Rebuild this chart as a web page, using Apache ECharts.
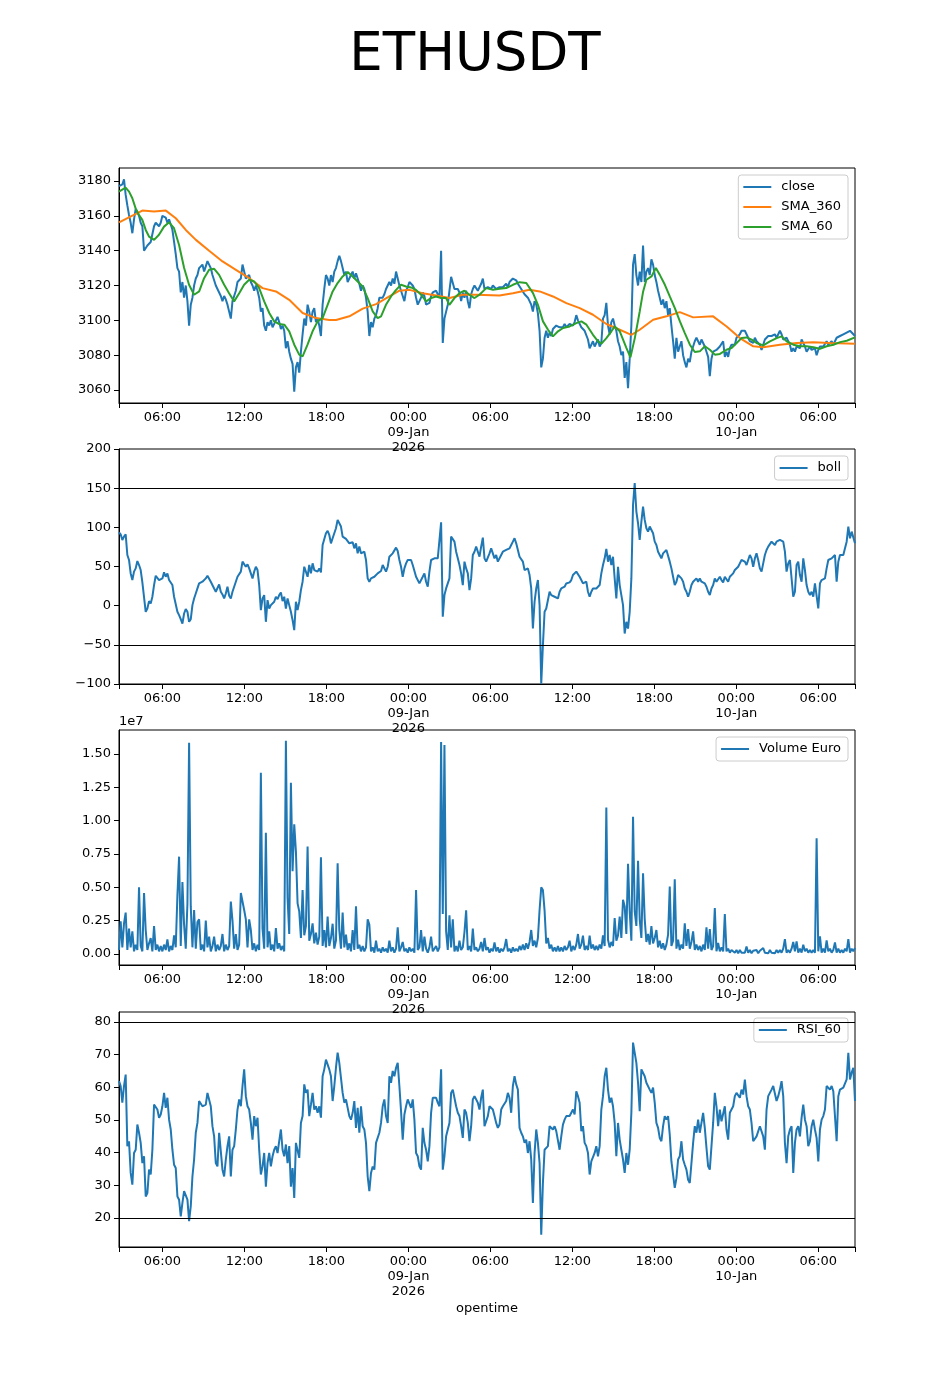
<!DOCTYPE html>
<html><head><meta charset="utf-8">
<script src="https://cdn.jsdelivr.net/npm/echarts/dist/echarts.min.js"></script>
<style>html,body{margin:0;padding:0;background:#fff}#c{width:950px;height:1400px}</style>
</head><body><div id="c"></div>
<script>
// time in hours after 2026-01-08 00:00; samples on a regular grid
const START_H = 2.824;
const STEP_H = 0.12213;

const close = [
3177,3178,3178,3181,3172,3166,3160.5,3156,3150,3158,
3164,3163,3160,3156,3154,3140,3139,3143,3142,3145,
3146,3154,3156,3155,3154,3156,3160,3160,3159,3156,
3158,3155,3152,3145,3138,3130,3128,3116,3122,3113,
3120,3111,3097,3109,3113,3120,3124,3126,3130,3131,
3132,3128,3131,3134,3135,3130,3126,3123,3120,3118,
3116,3114,3111,3114,3112,3109,3105,3101,3111,3114,
3117,3122,3121,3124,3132,3128,3124,3124,3126,3122,
3120,3117,3120,3117,3113,3105,3107,3097,3094,3099,
3097,3100,3096,3098,3099,3102,3099,3095,3097,3094,
3084,3088,3082,3078,3075,3059,3073,3076,3070,3082,
3092,3101,3097,3109,3105,3099,3105,3107,3099,3101,
3097,3091,3109,3118,3126,3124,3120,3126,3122,3128,
3130,3134,3137,3134,3130,3126,3128,3122,3124,3126,
3128,3124,3127,3124,3121,3117,3120,3118,3113,3105,
3091,3099,3096,3101,3103,3107,3113,3114,3113,3115,
3118,3120,3122,3120,3124,3121,3128,3124,3120,3117,
3114,3111,3117,3119,3122,3121,3120,3118,3113,3109,
3108,3113,3116,3114,3109,3108,3110,3114,3116,3115,
3117,3115,3113,3140,3087,3101,3105,3109,3117,3125,
3126,3118,3117,3118,3116,3111,3116,3113,3117,3111,
3107,3115,3118,3120,3121,3117,
3117,3121,3124,3118,3118,3119,3120,3118,3120,3119,
3118,3118,3119,3118,3119,3120,3121,3119,3122,3123,
3124,3125,3123,3121,3120,3118,3118,3115,3116,3113,
3114,3109,3105,3111,3109,3104,3094,3073,3078,3090,
3094,3090,3093,3091,3095,3096,3097,3096,3096,3097,
3096,3098,3096,3097,3098,3099,3097,3099,3103,3100,
3099,3096,3097,3094,3093,3089,3084,3086,3088,3085,
3086,3089,3085,3087,3101,3103,3110,3097,3092,3099,
3101,3097,3094,3088,3085,3080,3082,3067,3076,3061,
3078,3097,3132,3138,3126,3120,3128,3122,3143,3122,
3128,3130,3126,3135,3132,3126,3122,3117,3113,3109,
3112,3107,3111,3103,3107,3097,3088,3078,3090,3082,
3085,3088,3080,3076,3073,3078,3076,3082,3085,3088,
3090,3088,3086,3089,3087,3085,3082,3079,3068,3078,
3082,3081,3083,3082,3085,3086,3088,3079,3082,3079,
3084,3086,3085,3086,3090,3091,3092,3094,3093,3094,
3093,3090,3088,3089,3087,3090,3088,3087,3086,3083,
3086,3089,3090,3091,3090,3091,3091,3092,3090,3092,
3094,3092,3089,3088,3090,3088,3086,3082,3084,3082,
3085,3086,3084,3089,3087,3085,3082,3083,3085,3083,
3082,3084,3080,3083,3085,3084,3085,3086,3088,3086,
3087,3088,3086,3088,3090,3089,3091,3090,3092,3091,
3093,3092,3094,3093,3092,3091
];

const sma360 = [
[2.83,3156.3],[4.53,3163.0],[5.39,3162.5],[6.25,3163.0],[6.98,3158.6],[7.71,3151.9],[8.45,3146.2],
[9.42,3139.9],[10.40,3133.8],[11.38,3129.0],[12.35,3124.2],[13.33,3118.5],[14.31,3116.6],[15.28,3111.8],
[16.26,3104.2],[17.24,3101.3],[18.22,3100.2],[18.71,3100.2],[19.68,3102.3],[20.66,3106.7],[21.64,3109.3],
[22.61,3113.7],[23.35,3117.0],[24.08,3117.5],[25.05,3115.6],[26.04,3114.3],[27.01,3112.8],[27.98,3114.7],
[28.97,3114.7],[30.67,3114.3],[31.65,3115.6],[32.87,3117.5],[33.61,3116.6],[34.58,3113.7],[35.56,3109.9],
[36.54,3107.0],[37.51,3103.2],[38.49,3097.9],[39.47,3094.6],[40.32,3091.7],[40.93,3094.6],[41.91,3100.3],
[42.89,3102.3],[43.86,3104.7],[44.84,3101.7],[46.30,3102.3],[47.29,3096.5],[48.26,3089.8],[49.24,3085.1],
[49.97,3084.5],[51.19,3086.0],[52.42,3087.0],[53.63,3087.4],[54.86,3087.0],[56.68,3086.6]
];

const sma60 = [
[2.82,3173.9],[3.31,3176.2],[3.56,3173.9],[3.80,3170.1],[4.04,3164.3],[4.29,3160.5],[4.53,3157.7],
[4.78,3151.9],[5.02,3148.1],[5.39,3146.2],[5.75,3149.1],[6.12,3153.8],[6.49,3156.3],[6.85,3152.9],
[7.22,3143.3],[7.59,3130.0],[7.95,3120.4],[8.32,3114.7],[8.69,3116.6],[9.05,3124.2],[9.42,3129.0],
[9.79,3129.6],[10.15,3126.1],[10.52,3120.4],[10.88,3115.6],[11.25,3110.9],[11.62,3115.6],[11.98,3120.4],
[12.35,3123.3],[12.72,3122.3],[13.08,3118.5],[13.45,3110.9],[13.82,3104.2],[14.18,3099.4],[14.55,3097.9],
[14.92,3097.5],[15.28,3093.7],[15.65,3086.0],[16.01,3080.3],[16.26,3079.3],[16.62,3086.0],[16.99,3093.7],
[17.36,3099.4],[17.72,3101.3],[18.09,3108.9],[18.46,3116.6],[18.82,3121.4],[19.19,3125.2],[19.56,3127.7],
[19.92,3125.2],[20.29,3122.3],[20.65,3119.4],[21.02,3112.8],[21.39,3105.1],[21.75,3101.3],[22.00,3102.3],
[22.36,3108.9],[22.73,3113.7],[23.10,3117.5],[23.46,3120.4],[23.83,3119.4],[24.20,3118.9],[24.56,3117.5],
[24.93,3114.7],[25.30,3110.9],[25.66,3112.8],[26.03,3113.7],[26.39,3112.8],[26.76,3112.8],[27.00,3108.9],
[27.37,3112.8],[27.74,3115.6],[28.10,3117.0],[28.47,3114.7],[28.84,3112.8],[29.20,3114.7],[29.70,3118.5],
[30.19,3117.5],[30.68,3118.1],[31.16,3118.5],[31.65,3120.4],[32.14,3121.9],[32.63,3121.4],[33.12,3115.6],
[33.48,3108.9],[33.85,3099.4],[34.22,3094.6],[34.58,3090.8],[34.95,3093.7],[35.32,3095.6],[35.80,3096.5],
[36.29,3098.4],[36.66,3099.4],[37.03,3097.5],[37.51,3091.7],[37.88,3087.9],[38.13,3086.6],[38.49,3089.8],
[38.86,3093.7],[39.10,3096.5],[39.47,3093.7],[39.96,3084.1],[40.25,3078.8],[40.57,3089.8],[40.93,3105.1],
[41.18,3116.6],[41.42,3123.3],[41.79,3125.2],[42.11,3130.0],[42.40,3126.1],[42.77,3120.4],[43.13,3113.7],
[43.50,3107.0],[43.87,3099.4],[44.23,3092.7],[44.60,3086.0],[44.96,3081.8],[45.33,3082.2],[45.70,3085.1],
[46.06,3083.1],[46.43,3080.3],[46.80,3080.7],[47.28,3083.1],[47.65,3084.1],[48.02,3087.0],[48.38,3089.8],
[48.75,3090.2],[49.12,3088.9],[49.48,3087.0],[49.97,3085.6],[50.46,3087.9],[50.95,3089.8],[51.32,3090.8],
[51.68,3087.9],[52.17,3086.0],[52.66,3085.1],[53.15,3085.1],[53.64,3084.5],[54.12,3083.7],[54.61,3085.1],
[55.10,3086.0],[55.59,3087.5],[56.08,3088.3],[56.68,3090.2]
];

const boll = [
93.7,91.1,83.9,88.1,91.1,64.7,58.3,41.2,32.7,43.4,
47.6,57.0,51.9,45.5,29.7,28.4,-7.8,-3.6,5.8,2.8,
11.4,26.3,38.2,36.9,32.7,31.4,34.8,42.5,36.9,41.2,
32.7,34.8,26.3,11.4,9.2,-7.8,-12.1,-17.2,-22.8,-10.0,
-4.4,-7.8,-20.6,-17.2,0.7,9.2,15.6,22.0,28.4,29.7,
30.6,32.7,34.8,38.2,39.1,30.6,32.7,22.0,17.8,19.9,
27.1,17.8,14.3,9.2,15.6,24.2,12.6,9.2,17.8,19.9,
30.6,36.9,39.1,43.4,56.2,58.3,49.7,52.7,47.6,49.7,
34.8,43.4,49.7,45.5,26.3,-5.7,9.2,13.5,-20.6,7.1,
-3.6,0.7,2.8,5.0,11.4,8.4,13.5,16.9,5.8,11.4,
-3.6,9.2,0.7,-7.8,-18.5,-31.3,5.0,-5.7,5.0,19.9,
30.6,49.7,47.6,36.9,51.9,41.2,54.0,45.5,47.6,43.4,
47.6,42.5,77.5,79.6,92.4,95.4,90.3,79.6,86.0,92.4,
98.8,109.5,111.6,101.0,88.1,90.3,85.2,86.0,79.6,77.5,
80.9,73.2,79.6,66.8,75.4,66.8,64.7,68.9,58.3,34.8,
30.6,34.8,32.7,36.9,35.7,41.2,41.2,44.2,51.9,54.0,
43.4,49.7,62.5,60.4,66.8,64.7,74.1,69.8,58.3,49.7,
36.9,47.6,54.0,58.3,60.4,58.3,51.9,49.7,36.9,35.7,
28.4,26.3,36.9,41.2,30.6,24.2,43.4,58.3,60.4,60.4,
61.3,60.4,58.3,106.5,-14.2,13.5,22.0,24.2,34.8,88.1,
89.4,81.7,68.9,60.4,51.9,41.2,26.3,56.2,47.6,41.2,
19.9,34.8,64.7,68.9,75.4,77.5,
62.5,75.4,86.9,60.4,56.2,58.3,66.8,73.2,66.8,60.4,
64.7,56.2,58.3,64.7,68.9,66.8,71.1,68.9,73.2,77.5,
81.7,86.0,79.6,77.5,62.5,60.4,56.2,45.5,43.4,47.6,
39.1,22.0,-29.2,5.0,22.0,32.7,0.7,-99.6,-50.5,-7.8,
-3.6,-1.4,17.8,13.5,15.6,11.4,13.5,9.2,17.8,22.0,
22.9,24.2,28.4,30.6,29.7,32.7,39.1,36.9,43.4,41.2,
36.9,32.7,28.4,26.3,30.6,17.8,11.4,17.8,22.0,19.9,
22.0,22.9,26.3,41.2,51.9,60.4,72.4,56.2,64.7,51.9,
62.5,34.8,9.2,49.7,26.3,13.5,0.7,-35.6,-20.6,-29.2,
-7.8,34.8,128.7,156.4,120.1,105.2,83.9,107.3,126.5,109.5,
98.8,94.5,101.0,98.8,92.4,81.7,77.5,68.9,64.7,60.4,
66.8,68.9,71.1,68.9,56.2,47.6,36.9,26.3,30.6,39.1,
41.2,34.8,30.6,22.0,17.8,11.4,17.8,26.3,30.6,28.4,
34.8,30.6,34.8,30.6,32.7,28.4,24.2,17.8,13.5,22.0,
26.3,34.8,30.6,30.6,36.9,32.7,29.7,36.9,34.8,30.6,
36.9,39.1,41.2,45.5,47.6,49.7,54.0,58.3,60.4,56.2,
51.9,58.3,64.7,60.4,49.7,60.4,66.8,58.3,47.6,43.4,
54.0,64.7,71.1,75.4,77.5,81.7,83.9,77.5,81.7,79.6,
83.9,86.0,81.7,68.9,43.4,54.0,58.3,56.2,11.4,17.8,
51.9,56.2,39.1,30.6,60.4,45.5,26.3,17.8,13.5,17.8,
11.4,28.4,26.3,-3.6,28.4,32.7,30.6,34.8,47.6,58.3,
60.4,60.4,62.5,64.7,30.6,56.2,64.7,66.8,64.7,73.2,
81.7,101.0,86.0,94.5,96.7,79.6
];

// Volume Euro, in units of 1e7
const volumeEuro1e7 = [
0.03,0.245,0.05,0.23,0.31,0.03,0.19,0.05,0.17,0.02,
0.07,0.03,0.50,0.06,0.02,0.457,0.18,0.03,0.08,0.12,
0.02,0.21,0.03,0.07,0.02,0.06,0.02,0.07,0.03,0.11,
0.02,0.06,0.03,0.14,0.05,0.44,0.73,0.06,0.54,0.22,
0.04,0.377,1.584,0.357,0.05,0.33,0.04,0.24,0.26,0.03,
0.07,0.02,0.25,0.05,0.13,0.02,0.06,0.13,0.02,0.07,
0.03,0.06,0.15,0.02,0.07,0.03,0.06,0.394,0.25,0.04,
0.15,0.03,0.07,0.457,0.45,0.33,0.26,0.05,0.26,0.18,
0.03,0.08,0.02,0.07,0.03,1.36,0.19,0.04,0.91,0.05,
0.17,0.03,0.07,0.02,0.195,0.04,0.08,0.03,0.06,0.02,
1.60,0.42,0.15,1.285,0.62,0.973,0.77,0.38,0.32,0.12,
0.48,0.14,0.21,0.806,0.10,0.15,0.23,0.08,0.16,0.07,
0.13,0.726,0.06,0.18,0.05,0.28,0.06,0.12,0.227,0.04,
0.10,0.68,0.18,0.04,0.31,0.05,0.145,0.03,0.08,0.02,
0.18,0.03,0.357,0.04,0.07,0.02,0.06,0.02,0.05,0.26,
0.22,0.02,0.05,0.01,0.10,0.02,0.04,0.01,0.05,0.02,
0.04,0.01,0.10,0.02,0.05,0.01,0.04,0.20,0.02,0.05,
0.09,0.02,0.04,0.01,0.05,0.02,0.04,0.01,0.48,0.03,
0.05,0.18,0.02,0.13,0.04,0.01,0.05,0.13,0.02,0.04,
0.06,0.02,0.05,1.59,0.30,1.567,0.17,0.03,0.29,0.05,
0.26,0.02,0.06,0.02,0.10,0.03,0.05,0.165,0.327,0.03,
0.06,0.02,0.19,0.03,0.05,0.02,
0.04,0.09,0.02,0.12,0.03,0.05,0.01,0.04,0.02,0.087,
0.02,0.05,0.01,0.04,0.02,0.05,0.112,0.02,0.04,0.01,
0.05,0.02,0.04,0.02,0.06,0.03,0.07,0.03,0.08,0.04,
0.09,0.18,0.06,0.10,0.05,0.12,0.33,0.50,0.48,0.325,
0.08,0.12,0.04,0.07,0.02,0.05,0.02,0.06,0.02,0.05,
0.02,0.06,0.03,0.05,0.10,0.02,0.06,0.03,0.07,0.15,
0.04,0.07,0.137,0.03,0.06,0.03,0.137,0.04,0.07,0.03,
0.06,0.03,0.07,0.04,0.14,0.06,1.098,0.107,0.05,0.09,
0.06,0.27,0.10,0.14,0.28,0.12,0.407,0.357,0.15,0.676,
0.32,0.10,1.03,0.32,0.21,0.70,0.257,0.12,0.606,0.262,
0.09,0.15,0.07,0.21,0.08,0.12,0.18,0.05,0.10,0.04,
0.08,0.03,0.07,0.145,0.506,0.06,0.10,0.56,0.04,0.107,
0.03,0.07,0.04,0.23,0.06,0.187,0.04,0.09,0.17,0.03,
0.07,0.03,0.06,0.02,0.07,0.03,0.20,0.04,0.187,0.03,
0.06,0.344,0.02,0.082,0.02,0.05,0.02,0.30,0.02,0.04,
0.01,0.03,0.045,0.01,0.03,0.005,0.03,0.01,0.025,0.01,
0.057,0.01,0.03,0.005,0.025,0.01,0.03,0.005,0.025,0.01,
0.045,0.01,0.025,0.005,0.03,0.01,0.025,0.005,0.03,0.01,
0.03,0.01,0.04,0.112,0.01,0.03,0.01,0.04,0.09,0.02,
0.095,0.01,0.04,0.01,0.07,0.02,0.04,0.01,0.03,0.01,
0.03,0.01,0.868,0.02,0.132,0.01,0.04,0.01,0.102,0.02,
0.04,0.01,0.03,0.087,0.01,0.04,0.01,0.03,0.01,0.04,
0.02,0.112,0.01,0.04,0.02,0.045
];

const rsi60 = [
61.9,60.4,55.3,60.4,63.9,42.0,43.5,33.8,30.2,39.9,
40.9,48.6,46.1,43.0,36.8,38.9,26.6,27.6,34.8,33.3,
40.9,54.7,55.3,53.2,50.7,51.7,54.2,58.3,53.7,56.8,
50.1,47.1,40.9,36.3,35.3,26.6,25.6,20.5,24.6,28.2,
28.7,25.6,19.0,23.6,32.7,37.9,46.1,49.1,55.8,55.3,
54.2,53.7,54.7,58.3,58.8,54.2,48.1,45.0,36.8,35.8,
46.1,40.4,34.8,32.7,37.9,42.0,45.0,32.7,40.9,42.0,
47.1,53.2,56.3,54.2,60.4,65.5,57.3,54.2,53.2,49.1,
44.0,51.2,48.1,50.7,40.9,33.3,35.8,39.9,29.6,36.8,
39.9,35.8,38.9,40.9,42.0,39.9,43.5,47.1,40.9,38.9,
42.5,36.8,42.0,29.6,35.3,26.1,43.0,43.5,38.4,49.1,
51.2,60.9,58.3,59.3,51.2,54.7,58.3,53.2,54.2,52.2,
54.2,50.7,63.4,65.5,68.5,68.0,65.5,63.4,55.8,60.4,
66.0,70.6,67.5,62.9,58.3,55.3,56.3,55.8,51.2,50.1,
52.2,55.8,47.6,53.7,46.1,54.2,48.1,47.1,43.0,32.7,
28.2,33.8,35.8,34.8,43.0,43.0,46.1,49.1,54.2,56.3,
51.2,49.1,63.4,61.4,65.0,63.4,66.0,67.5,60.4,52.7,
44.0,51.7,54.2,56.3,56.8,53.7,56.3,50.1,39.9,38.9,
35.8,34.8,47.6,43.0,40.9,37.3,42.0,52.2,56.8,56.3,
56.8,55.3,54.2,65.5,34.8,38.9,45.0,47.1,49.1,58.3,
59.3,58.8,54.2,52.2,51.2,48.1,44.5,53.2,52.2,49.1,
43.5,48.1,56.3,57.3,57.8,55.3,
53.2,56.8,59.3,48.1,49.6,51.2,54.2,54.7,53.2,51.2,
49.1,47.6,48.6,53.2,54.2,54.7,55.8,58.3,56.8,52.2,
60.4,63.4,60.9,59.3,47.6,46.1,45.0,43.0,44.0,39.9,
43.5,37.9,24.6,39.9,47.1,43.0,36.8,14.9,30.7,40.9,
41.5,42.0,48.1,48.6,47.1,48.1,46.6,46.1,40.9,45.0,
48.6,50.1,51.2,51.7,51.2,52.2,53.2,51.7,58.8,57.3,
55.3,46.6,48.1,43.0,42.0,39.9,33.3,37.3,36.8,39.9,
42.0,38.9,42.0,53.2,57.3,63.4,66.0,59.3,55.3,56.8,
54.2,49.1,38.9,49.1,44.0,40.9,37.9,33.8,39.9,36.3,
40.9,52.2,73.7,74.2,67.5,61.4,52.7,65.5,66.0,63.4,
61.4,61.9,59.3,58.3,59.9,55.3,49.1,47.6,44.5,43.5,
48.1,51.2,50.1,51.2,45.5,37.3,36.8,29.2,32.2,37.9,
38.9,43.5,37.9,36.3,34.8,31.7,30.7,36.8,43.0,48.1,
46.1,50.1,46.1,49.1,52.2,47.6,41.5,35.8,34.8,42.0,
49.1,58.3,54.2,48.1,53.2,49.6,49.1,54.2,47.1,44.0,
52.2,53.2,54.2,57.3,58.3,58.8,56.8,59.3,57.8,62.4,
57.3,54.2,53.2,49.1,43.5,43.0,45.0,45.5,48.1,47.6,
45.0,40.9,53.2,57.3,58.3,59.3,60.4,60.9,55.8,57.3,
59.3,61.9,57.3,43.0,36.8,45.0,47.1,48.1,33.8,43.0,
47.1,48.1,45.0,50.7,54.7,50.1,48.1,42.0,43.5,48.1,
50.1,47.1,44.5,37.3,47.1,50.1,51.2,53.2,60.4,60.9,
59.3,60.4,58.8,58.3,43.5,57.3,59.3,58.8,59.9,60.4,
62.4,70.6,62.4,64.5,66.0,55.8
];

const xTickHours = [6,12,18,24,30,36,42,48,54];
const xTickLabels = ['06:00','12:00','18:00','00:00\n09-Jan\n2026','06:00','12:00','18:00','00:00\n10-Jan','06:00'];
const priceTicks = [3060,3080,3100,3120,3140,3160,3180];
const bollTicks = [-100,-50,0,50,100,150,200];
const volTicks = [0,0.25e7,0.5e7,0.75e7,1.0e7,1.25e7,1.5e7];
const rsiTicks = [20,30,40,50,60,70,80];
const bollLevels = [150,-50];
const rsiLevels = [80,20];

const END_H = START_H + (close.length - 1) * STEP_H;
const onGrid = arr => arr.map((v, i) => [START_H + i * STEP_H, v]);

const FONT = 'DejaVu Sans';
const BLUE = '#1f77b4', ORANGE = '#ff7f0e', GREEN = '#2ca02c';
const tops = [168, 449, 730, 1012];

const grids = tops.map(t => ({left: 119, top: t, width: 736, height: 235, show: true,
  borderColor: '#000', borderWidth: 1, backgroundColor: 'rgba(0,0,0,0)'}));

const xLabelFmt = v => { const i = xTickHours.findIndex(h => Math.abs(h - v) < 1e-6); return i >= 0 ? xTickLabels[i] : ''; };

const xAxes = tops.map((t, gi) => ({
  type: 'value', gridIndex: gi, min: START_H, max: END_H,
  axisLine: {show: true, onZero: false, lineStyle: {color: '#000', width: 1}},
  axisTick: {show: true, length: 5, customValues: [START_H].concat(xTickHours, [END_H]), lineStyle: {color: '#000'}},
  axisLabel: {customValues: xTickHours, formatter: xLabelFmt, color: '#000', fontSize: 13, fontFamily: FONT, lineHeight: 15, margin: 7},
  splitLine: {show: false}
}));

function yAx(gi, min, max, ticks, fmt) {
  return {
    type: 'value', gridIndex: gi, min: min, max: max,
    axisLine: {show: true, onZero: false, lineStyle: {color: '#000', width: 1}},
    axisTick: {show: true, length: 5, customValues: ticks, lineStyle: {color: '#000'}},
    axisLabel: {customValues: ticks, formatter: fmt, color: '#000', fontSize: 13, fontFamily: FONT, margin: 8},
    splitLine: {show: false}
  };
}
const minusFmt = v => String(v).replace('-', '\u2212');
const yAxes = [
  yAx(0, 3052.54, 3187.46, priceTicks, v => String(v)),
  yAx(1, -100, 200, bollTicks, minusFmt),
  yAx(2, -825000, 16800000, volTicks, v => (v / 1e7).toFixed(2)),
  yAx(3, 11.12, 83.06, rsiTicks, v => String(v))
];

function lineSeries(name, data, gi, color, extra) {
  return Object.assign({
    name: name, type: 'line', xAxisIndex: gi, yAxisIndex: gi, data: data,
    showSymbol: false, symbol: 'none', color: color,
    lineStyle: {color: color, width: 2}, emphasis: {disabled: true}, silent: true, animation: false
  }, extra || {});
}
function levels(vals) {
  return {silent: true, symbol: ['none', 'none'], label: {show: false}, animation: false,
    lineStyle: {color: '#000', width: 1, type: 'solid'}, emphasis: {disabled: true},
    data: vals.map(v => ({yAxis: v}))};
}

const legendBase = {
  orient: 'vertical', right: 102, icon: 'rect', itemWidth: 28, itemHeight: 2, itemGap: 6,
  padding: [5, 7, 5, 5], backgroundColor: 'rgba(255,255,255,0.8)', borderColor: '#cccccc',
  borderWidth: 1, borderRadius: 3, selectedMode: false,
  textStyle: {fontSize: 13, fontFamily: FONT, color: '#000', lineHeight: 14, padding: [0, 0, 0, 5]}
};

const chart = echarts.init(document.getElementById('c'), null, {renderer: 'canvas'});
chart.setOption({
  backgroundColor: '#fff',
  animation: false,
  grid: grids,
  xAxis: xAxes,
  yAxis: yAxes,
  legend: [
    Object.assign({}, legendBase, {top: 175, data: ['close', 'SMA_360', 'SMA_60']}),
    Object.assign({}, legendBase, {top: 456, data: ['boll']}),
    Object.assign({}, legendBase, {top: 737, data: ['Volume Euro']}),
    Object.assign({}, legendBase, {top: 1018, data: ['RSI_60']})
  ],
  series: [
    lineSeries('close', onGrid(close), 0, BLUE),
    lineSeries('SMA_360', sma360, 0, ORANGE),
    lineSeries('SMA_60', sma60, 0, GREEN),
    lineSeries('boll', onGrid(boll), 1, BLUE, {markLine: levels(bollLevels)}),
    lineSeries('Volume Euro', onGrid(volumeEuro1e7.map(v => v * 1e7)), 2, BLUE),
    lineSeries('RSI_60', onGrid(rsi60), 3, BLUE, {markLine: levels(rsiLevels)})
  ],
  graphic: [
    {type: 'text', x: 475, y: 56, style: {text: 'ETHUSDT', font: '53px "DejaVu Sans"', fill: '#000', textAlign: 'center', textVerticalAlign: 'middle'}},
    {type: 'text', x: 119, y: 722, style: {text: '1e7', font: '13px "DejaVu Sans"', fill: '#000', textAlign: 'left', textVerticalAlign: 'middle'}},
    {type: 'text', x: 487, y: 1309, style: {text: 'opentime', font: '13px "DejaVu Sans"', fill: '#000', textAlign: 'center', textVerticalAlign: 'middle'}}
  ]
});
</script>
</body></html>
